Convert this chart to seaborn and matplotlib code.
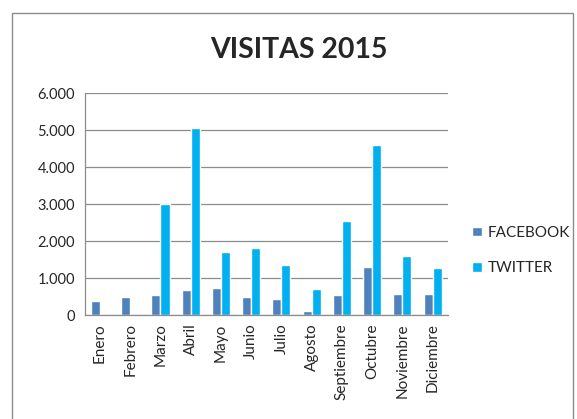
import seaborn as sns
import pandas as pd
import matplotlib.pyplot as plt
from matplotlib.patches import Rectangle
from matplotlib.ticker import FuncFormatter, FixedLocator

meses = ['Enero', 'Febrero', 'Marzo', 'Abril', 'Mayo', 'Junio', 'Julio',
         'Agosto', 'Septiembre', 'Octubre', 'Noviembre', 'Diciembre']
facebook = [370, 490, 540, 670, 730, 490, 430, 100, 540, 1300, 570, 570]
twitter = [0, 0, 3000, 5050, 1700, 1810, 1350, 700, 2540, 4600, 1600, 1270]
redes = ['FACEBOOK', 'TWITTER']
colores = ['#4F81BD', '#00B0F0']


def build_frame():
    rows = []
    for i, mes in enumerate(meses):
        rows.append({'Mes': mes, 'Red': 'FACEBOOK', 'Visitas': facebook[i]})
        rows.append({'Mes': mes, 'Red': 'TWITTER', 'Visitas': twitter[i]})
    return pd.DataFrame(rows)


def main():
    df = build_frame()
    sns.set_style('white')
    plt.rcParams['font.family'] = ['Lato', 'DejaVu Sans']

    fig = plt.figure(figsize=(5.77, 4.19), dpi=100)
    ax = fig.add_axes([0.147, 0.248, 0.629, 0.530])
    sns.barplot(data=df, x='Mes', y='Visitas', hue='Red', hue_order=redes,
                palette=colores, width=0.6, gap=0, saturation=1,
                errorbar=None, ax=ax)

    ax.set_ylim(0, 6000)
    ax.set_yticks(range(0, 6001, 1000))
    ax.yaxis.set_major_formatter(FuncFormatter(lambda v, p: f'{int(v):,}'.replace(',', '.')))
    ax.grid(axis='y', color='#8c8c8c', linewidth=0.9)
    ax.set_axisbelow(True)
    ax.set_xlim(-0.5, len(meses) - 0.5)
    ax.set_xlabel('')
    ax.set_ylabel('')
    ax.tick_params(axis='x', rotation=90, labelsize=11, length=0, pad=6)
    ax.tick_params(axis='y', labelsize=10.5, length=0, pad=7)
    ax.xaxis.set_minor_locator(FixedLocator([i - 0.5 for i in range(len(meses) + 1)]))
    ax.tick_params(axis='x', which='minor', length=5, color='#8c8c8c', width=0.9)

    for side in ['top', 'right']:
        ax.spines[side].set_visible(False)
    for side in ['left', 'bottom']:
        ax.spines[side].set_color('#8c8c8c')
        ax.spines[side].set_linewidth(0.9)

    fig.text(0.518, 1 - 50 / 419, 'VISITAS 2015', fontsize=20.5, fontweight='bold',
             ha='center', va='center')

    handles, labels = ax.get_legend_handles_labels()
    ax.legend(handles, labels, loc='center left', bbox_to_anchor=(1.03, 0.29),
              frameon=False, fontsize=11, handlelength=0.6, handleheight=0.6,
              handletextpad=0.4, labelspacing=1.4)

    border = Rectangle((12 / 577, -0.1), (573 - 12) / 577, 1.1 - 13 / 419,
                       transform=fig.transFigure, fill=False,
                       edgecolor='#8c8c8c', linewidth=1)
    fig.patches.append(border)

    fig.savefig('out.png', dpi=100)


if __name__ == '__main__':
    main()
